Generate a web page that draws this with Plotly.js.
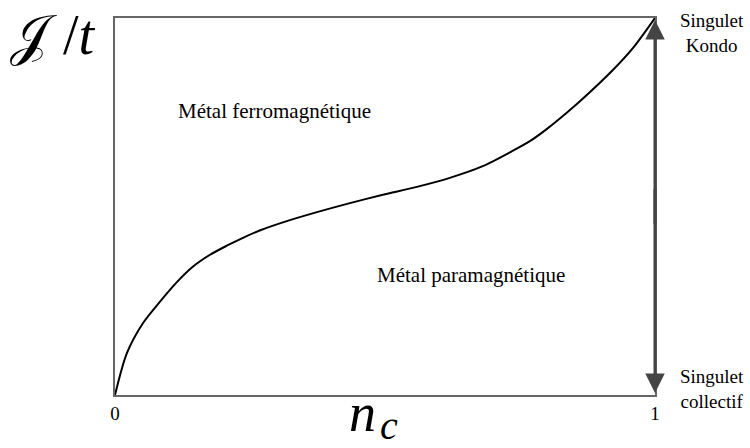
<!DOCTYPE html>
<html>
<head>
<meta charset="utf-8">
<script src="https://cdn.plot.ly/plotly-3.0.1.min.js"></script>
<style>html,body{margin:0;padding:0;background:#fff;}#chart{width:750px;height:448px;}</style>
</head>
<body>
<div id="chart"></div>
<script>
// Phase boundary J/t versus n_c
const nc = [0, 0.022, 0.052, 0.083, 0.115, 0.144, 0.176, 0.207, 0.237, 0.269, 0.311, 0.374, 0.435, 0.496, 0.559, 0.620, 0.681, 0.737, 0.769, 0.800, 0.836, 0.861, 0.922, 0.959, 1];
const Jt = [0, 0.111, 0.191, 0.247, 0.300, 0.340, 0.372, 0.396, 0.417, 0.437, 0.458, 0.485, 0.509, 0.531, 0.552, 0.576, 0.607, 0.648, 0.674, 0.706, 0.748, 0.779, 0.862, 0.920, 1];
const tickVals = [0, 1];
const tickText = ['0', '1'];
const regionLabels = ['Métal ferromagnétique', 'Métal paramagnétique'];
const regionX = [0.296, 0.659];
const regionY = [0.753, 0.318];
const sideLabels = ['Singulet<br>Kondo', 'Singulet<br>collectif'];
const sideY = [0.96, 0.015];
const arrowEnds = [1, 0];
const arrowStarts = [0.45, 0.55];

const serif = "'Liberation Serif', 'Times New Roman', serif";

const annotations = [];
regionLabels.forEach((t, i) => annotations.push({
  text: t, x: regionX[i], y: regionY[i], xref: 'x', yref: 'y', showarrow: false,
  xanchor: 'center', yanchor: 'middle',
  font: {family: serif, size: 21, color: '#000'}
}));
sideLabels.forEach((t, i) => annotations.push({
  text: t, x: 1.105, y: sideY[i], xref: 'paper', yref: 'paper', showarrow: false,
  xanchor: 'center', yanchor: 'middle',
  font: {family: serif, size: 19, color: '#000'}, align: 'center'
}));
arrowEnds.forEach((e, i) => annotations.push({
  x: 1, y: e, xref: 'x', yref: 'y', ax: 1, ay: arrowStarts[i], axref: 'x', ayref: 'y',
  text: '', showarrow: true, arrowhead: 2, arrowsize: 1.3, arrowwidth: 3,
  arrowcolor: '#444', standoff: 2
}));
annotations.push({
  text: '𝒥<span style="font-family:\'Liberation Serif\'"> /<i>t</i></span>', xref: 'paper', yref: 'paper', x: -0.115, y: 0.955,
  xanchor: 'center', yanchor: 'middle',
  showarrow: false, font: {family: "'DejaVu Serif', serif", size: 56, color: '#000'}
});
annotations.push({
  text: '<i>n</i>', xref: 'paper', yref: 'paper', x: 0.459, y: -0.047,
  xanchor: 'center', yanchor: 'middle', showarrow: false,
  font: {family: serif, size: 54, color: '#000'}
});
annotations.push({
  text: '<i>c</i>', xref: 'paper', yref: 'paper', x: 0.508, y: -0.08,
  xanchor: 'center', yanchor: 'middle', showarrow: false,
  font: {family: serif, size: 40, color: '#000'}
});

Plotly.newPlot('chart', [{
  x: nc, y: Jt, type: 'scatter', mode: 'lines',
  line: {color: '#000', width: 2, shape: 'spline', smoothing: 0.8}, hoverinfo: 'none'
}], {
  width: 750, height: 448,
  margin: {l: 115, r: 95, t: 18, b: 53},
  paper_bgcolor: '#fff', plot_bgcolor: '#fff',
  showlegend: false,
  xaxis: {range: [0, 1], tickvals: tickVals, ticktext: tickText, showgrid: false, zeroline: false,
    showline: true, mirror: true, linecolor: '#666', linewidth: 2, ticks: '',
    tickfont: {family: serif, size: 19, color: '#000'}, fixedrange: true},
  yaxis: {range: [0, 1], showticklabels: false, showgrid: false, zeroline: false,
    showline: true, mirror: true, linecolor: '#666', linewidth: 2, ticks: '', fixedrange: true},
  annotations: annotations
}, {staticPlot: true});
</script>
</body>
</html>
